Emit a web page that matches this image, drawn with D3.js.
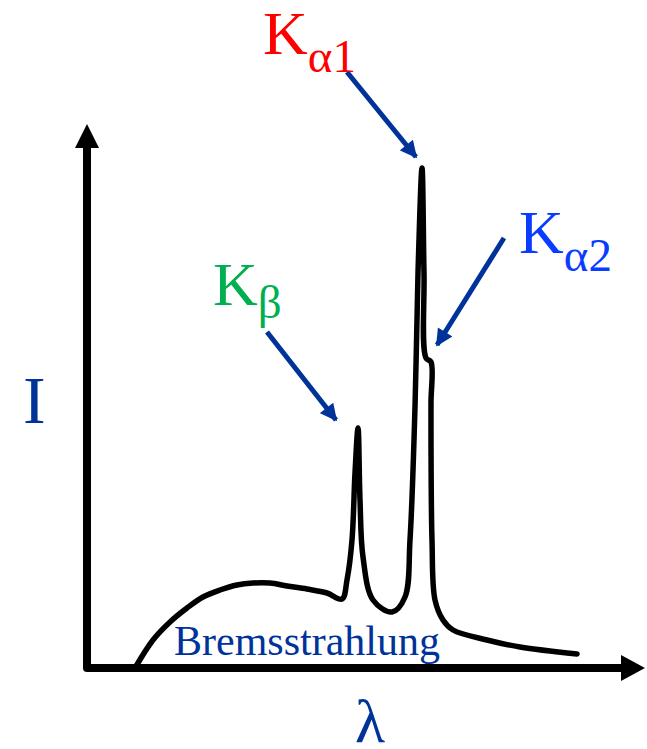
<!DOCTYPE html>
<html>
<head>
<meta charset="utf-8">
<script src="https://cdn.jsdelivr.net/npm/d3@7"></script>
<style>
  body { margin: 0; background: #fff; }
  svg { display: block; }
</style>
</head>
<body>
<svg width="647" height="749"></svg>
<script>
  // wavelength (arbitrary units) and intensity
  const lambda = [48, 66, 83, 100, 116, 133, 150, 166, 183, 200, 220, 240, 255, 260, 265, 268, 271, 273, 276, 286, 305, 318, 323, 328, 331, 335, 337, 339, 344, 344, 344, 345, 348, 356, 366, 400, 433, 490];
  const intensity = [0, 28, 46, 60, 71, 78, 83, 85, 85, 82, 79, 75, 69, 88, 128, 195, 240, 168, 111, 68, 56, 71, 128, 261, 395, 500, 395, 310, 306, 266, 228, 128, 68, 48, 38, 28, 21, 14];

  // line labels: [name, subscript, label anchor, arrow start, arrow tip] (data units)
  const peakNames = ['K', 'K', 'K'];
  const peakSubs = ['\u03b11', '\u03b12', '\u03b2'];
  const peakColors = ['#ff0000', '#0a3cff', '#00b050'];
  const labelPos = [[176, 614], [432, 415], [126, 363]];
  const arrowFrom = [[260, 596], [417, 430], [180, 336]];
  const arrowTo = [[329, 511], [350, 323], [249, 248]];

  const axisLabelX = '\u03bb';
  const axisLabelY = 'I';
  const bremsLabel = 'Bremsstrahlung';

  const svg = d3.select('svg');
  const serif = '"Liberation Serif", "Times New Roman", serif';
  const navy = '#003399';

  const xScale = d3.scaleLinear().domain([0, 560]).range([87, 647]);
  const yScale = d3.scaleLinear().domain([0, 546]).range([668, 122]);

  // axes with arrowheads
  svg.append('path')
    .attr('d', `M${xScale(0)},${yScale(520)} L${xScale(0)},${yScale(0)} L${xScale(536)},${yScale(0)}`)
    .attr('fill', 'none')
    .attr('stroke', '#000')
    .attr('stroke-width', 8)
    .attr('stroke-linejoin', 'round');

  svg.append('path')
    .attr('d', `M${xScale(0)},${yScale(544)} L${xScale(-12)},${yScale(520)} L${xScale(12)},${yScale(520)} Z`)
    .attr('fill', '#000');

  svg.append('path')
    .attr('d', `M${xScale(558)},${yScale(0)} L${xScale(534)},${yScale(13)} L${xScale(534)},${yScale(-13)} Z`)
    .attr('fill', '#000');

  // spectrum
  const pts = lambda.map((l, i) => [l, intensity[i]]);
  const line = d3.line()
    .x(d => xScale(d[0]))
    .y(d => yScale(d[1]))
    .curve(d3.curveCatmullRom.alpha(0.5));

  svg.append('path')
    .datum(pts)
    .attr('d', line)
    .attr('fill', 'none')
    .attr('stroke', '#000')
    .attr('stroke-width', 5.5)
    .attr('stroke-linejoin', 'round')
    .attr('stroke-linecap', 'round');

  // arrows
  svg.append('defs').append('marker')
    .attr('id', 'head')
    .attr('viewBox', '0 0 10 10')
    .attr('refX', 9)
    .attr('refY', 5)
    .attr('markerWidth', 3.6)
    .attr('markerHeight', 3.4)
    .attr('markerUnits', 'strokeWidth')
    .attr('orient', 'auto')
    .append('path')
      .attr('d', 'M0,0 L10,5 L0,10 Z')
      .attr('fill', navy);

  arrowFrom.forEach((f, i) => {
    const t = arrowTo[i];
    svg.append('line')
      .attr('x1', xScale(f[0])).attr('y1', yScale(f[1]))
      .attr('x2', xScale(t[0])).attr('y2', yScale(t[1]))
      .attr('stroke', navy)
      .attr('stroke-width', 5)
      .attr('marker-end', 'url(#head)');
  });

  // peak labels
  peakNames.forEach((name, i) => {
    const txt = svg.append('text')
      .attr('x', xScale(labelPos[i][0]))
      .attr('y', yScale(labelPos[i][1]))
      .attr('fill', peakColors[i])
      .style('font-family', serif);
    txt.append('tspan')
      .style('font-size', '62px')
      .text(name);
    txt.append('tspan')
      .attr('dy', i === 2 ? 13 : 18)
      .style('font-size', '47px')
      .text(peakSubs[i]);
  });

  // axis labels
  svg.append('text')
    .attr('x', 23)
    .attr('y', 423)
    .attr('fill', navy)
    .style('font-family', serif)
    .style('font-size', '68px')
    .text(axisLabelY);

  svg.append('text')
    .attr('x', 355)
    .attr('y', 742)
    .attr('fill', navy)
    .style('font-family', serif)
    .style('font-size', '62px')
    .text(axisLabelX);

  svg.append('text')
    .attr('x', 174)
    .attr('y', 655)
    .attr('fill', navy)
    .style('font-family', serif)
    .style('font-size', '42px')
    .text(bremsLabel);
</script>
</body>
</html>
